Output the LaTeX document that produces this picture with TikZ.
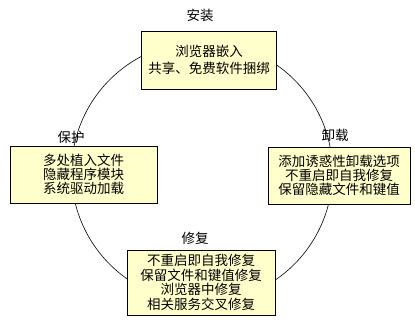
\documentclass[tikz,border=0pt]{standalone}
\usepackage{fontspec}
\newfontfamily\cjk{Noto Sans CJK SC}
\definecolor{boxfill}{RGB}{255,255,204}
\begin{document}
\begin{tikzpicture}[x=1pt,y=-1pt,
  stagebox/.style={draw=black,line width=0.8pt,fill=boxfill,inner sep=0pt,align=center,
    font=\cjk\fontsize{13.5}{14}\selectfont},
  stagelabel/.style={inner sep=0pt,font=\cjk\fontsize{13.5}{14}\selectfont},
  cyc/.style={draw=black,line width=0.6pt}]
\useasboundingbox (0,0) rectangle (415,323);
\fill[white] (0,0) rectangle (415,323);
\coordinate (c) at (202,172);
\draw[cyc] (c) circle[radius=130.5];
\node[stagebox,minimum width=135,minimum height=58,font=\cjk\fontsize{13.5}{16.7}\selectfont] (install) at (209,60) {浏览器嵌入\\共享、免费软件捆绑};
\node[stagebox,minimum width=147,minimum height=57] (protect) at (83.5,174.5) {多处植入文件\\隐藏程序模块\\系统驱动加载};
\node[stagebox,minimum width=142,minimum height=57] (uninstall) at (339,175.5) {添加诱惑性卸载选项\\不重启即自我修复\\保留隐藏文件和键值};
\node[stagebox,minimum width=148,minimum height=65,font=\cjk\fontsize{13.5}{14.7}\selectfont] (repair) at (201,282.5) {不重启即自我修复\\保留文件和键值修复\\浏览器中修复\\相关服务交叉修复};
\node[stagelabel] (linstall) at (200,15) {安装};
\node[stagelabel] (lprotect) at (71,137) {保护};
\node[stagelabel] (luninstall) at (335,135) {卸载};
\node[stagelabel] (lrepair) at (195,238) {修复};
\end{tikzpicture}
\end{document}
